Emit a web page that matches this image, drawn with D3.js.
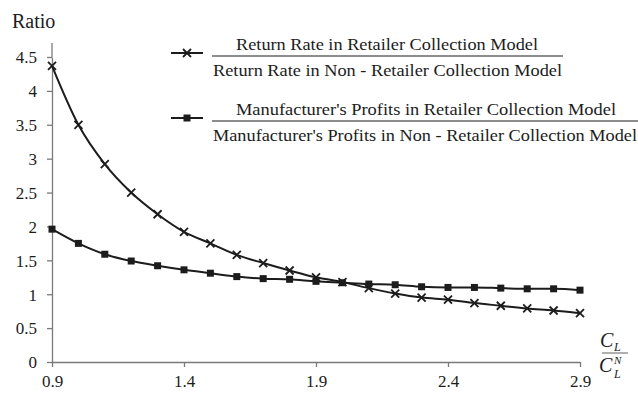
<!DOCTYPE html>
<html>
<head>
<meta charset="utf-8">
<script src="https://cdn.jsdelivr.net/npm/d3@7"></script>
</head>
<body style="margin:0; background:#fff">
<svg id="chart" width="638" height="394" style="display:block"></svg>
<script>
// Cost ratio C_L / C_L^N on the x axis
const costRatio = [0.9, 1.0, 1.1, 1.2, 1.3, 1.4, 1.5, 1.6, 1.7, 1.8, 1.9,
                   2.0, 2.1, 2.2, 2.3, 2.4, 2.5, 2.6, 2.7, 2.8, 2.9];
// Return rate ratio (retailer collection vs non-retailer collection)
const returnRateRatio = [4.37, 3.50, 2.92, 2.50, 2.18, 1.92, 1.75, 1.58, 1.46, 1.35, 1.25,
                         1.18, 1.09, 1.01, 0.95, 0.92, 0.87, 0.83, 0.79, 0.76, 0.72];
// Manufacturer's profit ratio (retailer collection vs non-retailer collection)
const profitRatio = [1.96, 1.75, 1.59, 1.49, 1.42, 1.36, 1.31, 1.26, 1.23, 1.22, 1.19,
                     1.17, 1.15, 1.14, 1.11, 1.10, 1.10, 1.09, 1.08, 1.08, 1.06];
const xTicks = [0.9, 1.4, 1.9, 2.4, 2.9];
const yTicks = [0, 0.5, 1, 1.5, 2, 2.5, 3, 3.5, 4, 4.5];
const legendNumerators = ["Return Rate in Retailer Collection Model",
                          "Manufacturer's Profits in Retailer Collection Model"];
const legendDenominators = ["Return Rate in Non - Retailer Collection Model",
                            "Manufacturer's Profits in Non - Retailer Collection Model"];

const svg = d3.select("#chart");
const ink = "#1c1c1c";
const axisColor = "#7a7a7a";
const serif = '"Liberation Serif", "Times New Roman", serif';

const x = d3.scaleLinear().domain([0.9, 2.9]).range([52, 580]);
const y = d3.scaleLinear().domain([0, 4.5]).range([362, 57]);

// Axes
const yAxis = svg.append("g")
  .attr("transform", `translate(${x(0.9)},0)`)
  .call(d3.axisLeft(y).tickValues(yTicks).tickSize(5).tickSizeOuter(0)
        .tickFormat(d3.format("~g")));
const xAxis = svg.append("g")
  .attr("transform", `translate(0,${y(0)})`)
  .call(d3.axisBottom(x).tickValues(xTicks).tickSize(5).tickSizeOuter(0)
        .tickFormat(d3.format(".1f")));

[yAxis, xAxis].forEach(g => {
  g.select(".domain").attr("stroke", axisColor).attr("stroke-width", 1.3);
  g.selectAll(".tick line").attr("stroke", axisColor).attr("stroke-width", 1.3);
  g.selectAll(".tick text").attr("fill", ink).style("font-size", "17px");
});
yAxis.selectAll(".tick text").attr("x", -15).attr("dy", "0.34em");
xAxis.selectAll(".tick text").attr("y", 11).attr("dy", "0.8em");
// Vertical axis continues a little above the top tick
yAxis.append("line")
  .attr("x1", 0).attr("x2", 0)
  .attr("y1", y(4.5)).attr("y2", y(4.5) - 14)
  .attr("stroke", axisColor).attr("stroke-width", 1.3);

// Axis titles
svg.append("text").attr("x", 12).attr("y", 28)
  .style("font-size", "20px").attr("fill", ink).text("Ratio");

const xt = svg.append("g").attr("fill", ink);
xt.append("text").attr("x", 600).attr("y", 347).style("font-size", "20px").style("font-style", "italic").text("C");
xt.append("text").attr("x", 614).attr("y", 351).style("font-size", "12px").style("font-style", "italic").text("L");
xt.append("line").attr("x1", 602).attr("x2", 628).attr("y1", 353).attr("y2", 353)
  .attr("stroke", axisColor).attr("stroke-width", 1.2);
xt.append("text").attr("x", 599).attr("y", 372).style("font-size", "20px").style("font-style", "italic").text("C");
xt.append("text").attr("x", 614).attr("y", 364).style("font-size", "11px").style("font-style", "italic").text("N");
xt.append("text").attr("x", 614).attr("y", 378).style("font-size", "12px").style("font-style", "italic").text("L");

// Series
const line = d3.line().x((d, i) => x(costRatio[i])).y(d => y(d)).curve(d3.curveMonotoneX);

function crossPath(cx, cy, r) {
  return `M${cx - r},${cy - r}L${cx + r},${cy + r}M${cx - r},${cy + r}L${cx + r},${cy - r}`;
}

svg.append("path").datum(returnRateRatio).attr("d", line)
  .attr("fill", "none").attr("stroke", ink).attr("stroke-width", 2);
svg.append("path").datum(profitRatio).attr("d", line)
  .attr("fill", "none").attr("stroke", ink).attr("stroke-width", 2);

svg.append("g").selectAll("path").data(returnRateRatio).join("path")
  .attr("d", (d, i) => crossPath(x(costRatio[i]), y(d), 4))
  .attr("stroke", ink).attr("stroke-width", 1.8).attr("fill", "none");

svg.append("g").selectAll("rect").data(profitRatio).join("rect")
  .attr("x", (d, i) => x(costRatio[i]) - 3.5).attr("y", d => y(d) - 3.5)
  .attr("width", 7).attr("height", 7).attr("fill", ink);

// Legend
const legendRows = [
  { mid: 56, lineEnd: 563, numW: 302, denW: 349, marker: "cross" },
  { mid: 121, lineEnd: 638, numW: 380, denW: 424, marker: "square" }
];
legendRows.forEach((row, k) => {
  const g = svg.append("g");
  g.append("line").attr("x1", 171).attr("x2", 203).attr("y1", row.mid - 3).attr("y2", row.mid - 3)
    .attr("stroke", ink).attr("stroke-width", 2);
  if (row.marker === "cross") {
    g.append("path").attr("d", crossPath(187, row.mid - 3, 4))
      .attr("stroke", ink).attr("stroke-width", 1.8);
  } else {
    g.append("rect").attr("x", 183.5).attr("y", row.mid - 6.5).attr("width", 7).attr("height", 7)
      .attr("fill", ink);
  }
  g.append("line").attr("x1", 212).attr("x2", row.lineEnd).attr("y1", row.mid).attr("y2", row.mid)
    .attr("stroke", ink).attr("stroke-width", 1.2);
  g.append("text").attr("x", 236).attr("y", row.mid - 6).style("font-size", "17px").attr("fill", ink)
    .attr("textLength", row.numW).attr("lengthAdjust", "spacingAndGlyphs")
    .text(legendNumerators[k]);
  g.append("text").attr("x", 213).attr("y", row.mid + 20).style("font-size", "17px").attr("fill", ink)
    .attr("textLength", row.denW).attr("lengthAdjust", "spacingAndGlyphs")
    .text(legendDenominators[k]);
});

// All text in the figure is set in a Times-style serif
svg.selectAll("text").style("font-family", serif);
</script>
</body>
</html>
